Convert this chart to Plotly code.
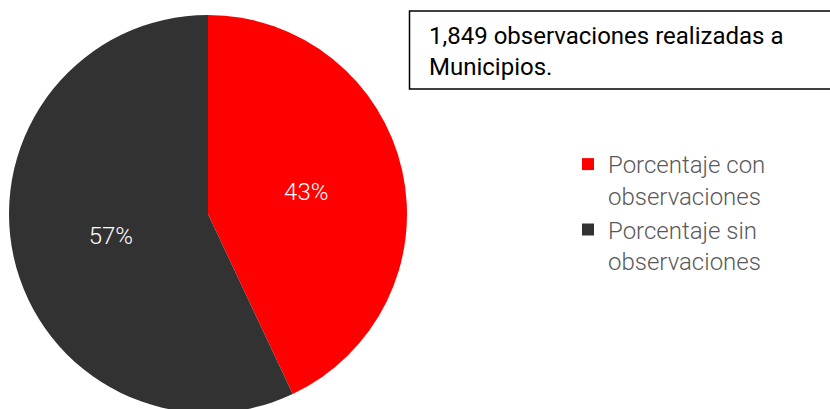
import plotly.graph_objects as go

W, H = 830, 420

labels = ["Porcentaje con<br>observaciones", "Porcentaje sin<br>observaciones"]
values = [43, 57]
colors = ["#FF0000", "#323232"]
note_text = "1,849 observaciones realizadas a<br>Municipios."

def px_x(v):
    return v / W

def px_y(v):
    return 1 - v / H

fig = go.Figure()
fig.add_trace(go.Pie(
    labels=labels,
    values=values,
    sort=False,
    direction="clockwise",
    rotation=0,
    marker=dict(colors=colors, line=dict(width=0)),
    textinfo="percent",
    texttemplate="%{percent:.0%}",
    textposition="inside",
    insidetextorientation="horizontal",
    textfont=dict(family="Roboto", size=24, color="white", weight=300),
    domain=dict(x=[px_x(9), px_x(407)], y=[px_y(413), px_y(15)]),
    hoverinfo="label+percent",
))

fig.add_shape(type="rect", xref="paper", yref="paper",
              x0=px_x(409.5), x1=1.05, y0=px_y(89), y1=px_y(11),
              line=dict(color="#000000", width=1.5), fillcolor="rgba(0,0,0,0)")
fig.add_annotation(xref="paper", yref="paper", x=px_x(427), y=px_y(20),
                   xanchor="left", yanchor="top", align="left", showarrow=False,
                   text=note_text,
                   font=dict(family="Roboto", size=24, color="#000000"))

fig.update_layout(
    width=W, height=H,
    margin=dict(l=0, r=0, t=0, b=0),
    paper_bgcolor="white", plot_bgcolor="white",
    showlegend=True,
    legend=dict(x=px_x(568), y=px_y(142), xanchor="left", yanchor="top",
                font=dict(family="Roboto", size=24, color="#595959", weight=300),
                valign="top", itemwidth=30, tracegroupgap=0,
                bgcolor="rgba(0,0,0,0)"),
)

fig.write_html(
    "out.html",
    config={"displayModeBar": False},
    post_script="document.body.style.margin='0';document.body.style.overflow='hidden';"
                "document.documentElement.style.overflow='hidden';",
)
